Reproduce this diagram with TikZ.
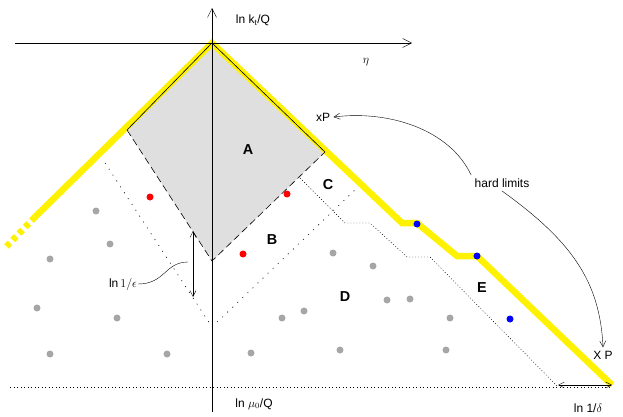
\documentclass[tikz,border=0pt]{standalone}
\usepackage{fontspec}
\setmainfont{Liberation Sans}
\usetikzlibrary{arrows.meta}
\begin{document}
\begin{tikzpicture}[x=1pt,y=-1pt, font=\large,
    >={Straight Barb[length=6pt,width=6pt]},
    grey dot/.style={fill=gray!70},
    region/.style={font=\bfseries\Large}]
    \useasboundingbox (0,0) rectangle (623,417);
    % shaded region A
    \fill[gray!25] (212,43) -- (325,152) -- (212,261) -- (127,130) -- cycle;
    % yellow boundary
    \draw[yellow, line width=6.5pt] (35,217) -- (212,43) -- (402,223) -- (417,223)
      -- (457,256) -- (477,256) -- (612,385);
    \draw[yellow, line width=6.5pt, dash pattern=on 5pt off 4pt] (35,217) -- (5,248);
    % axes
    \draw[->, >={Straight Barb[length=9pt,width=9pt]}] (15,43) -- (412,43);
    \draw[->, >={Straight Barb[length=9pt,width=9pt]}] (212,412) -- (212,8);
    \draw (253,20) node {ln k$_\mathrm{t}$/Q};
    \draw (366,62) node {$\eta$};
    \draw (254,404) node {ln $\mu_0$/Q};
    % edges of A
    \draw[semithick] (127,130) -- (212,43) -- (325,152);
    \draw[semithick, dash pattern=on 7pt off 4pt] (127,130) -- (212,261) -- (325,152);
    % dotted lines
    \draw[semithick, dash pattern=on 1pt off 6pt] (105,163) -- (212,327) -- (358,187);
    \draw[dash pattern=on 1pt off 2pt] (300,178) -- (345,223) -- (370,223) -- (407,257)
      -- (430,257) -- (558,387);
    \draw[dash pattern=on 1pt off 2.5pt] (10,387) -- (612,387);
    % dots
    \foreach \p in {(96,211),(110,244),(50,259),(37,308),(117,318),(50,354),
      (167,354),(251,353),(333,253),(373,266),(282,318),(304,311),(387,300),
      (410,299),(450,318),(340,350),(446,350)}
      \fill[grey dot] \p circle (3.5pt);
    \foreach \p in {(150,197),(287,194),(243,254)}
      \fill[red] \p circle (3.5pt);
    \foreach \p in {(417,224),(477,256),(510,319)}
      \fill[blue] \p circle (3.5pt);
    % region labels
    \draw (248,150) node[region] {A};
    \draw (272,240) node[region] {B};
    \draw (328,185) node[region] {C};
    \draw (345,297) node[region] {D};
    \draw (482,288) node[region] {E};
    % epsilon
    \draw[<->] (193,231) -- (193,297);
    \draw (123,284) node[inner sep=1pt] (eps) {$\ln 1/\epsilon$};
    \draw (eps.east) .. controls (165,284) and (165,262) .. (188,262);
    % delta
    \draw[<->] (558,385) -- (612,385);
    \draw (588,408) node {ln 1/$\delta$};
    % hard limits
    \draw (323,117) node (xp) {xP};
    \draw (603,355) node (XP) {X P};
    \draw (502,183) node (hl) {hard limits};
    \draw[->] (hl.north west) .. controls (450,130) and (390,110) .. (xp.east);
    \draw[->] (hl.south) .. controls (570,240) and (600,280) .. (XP.north);
\end{tikzpicture}
\end{document}
